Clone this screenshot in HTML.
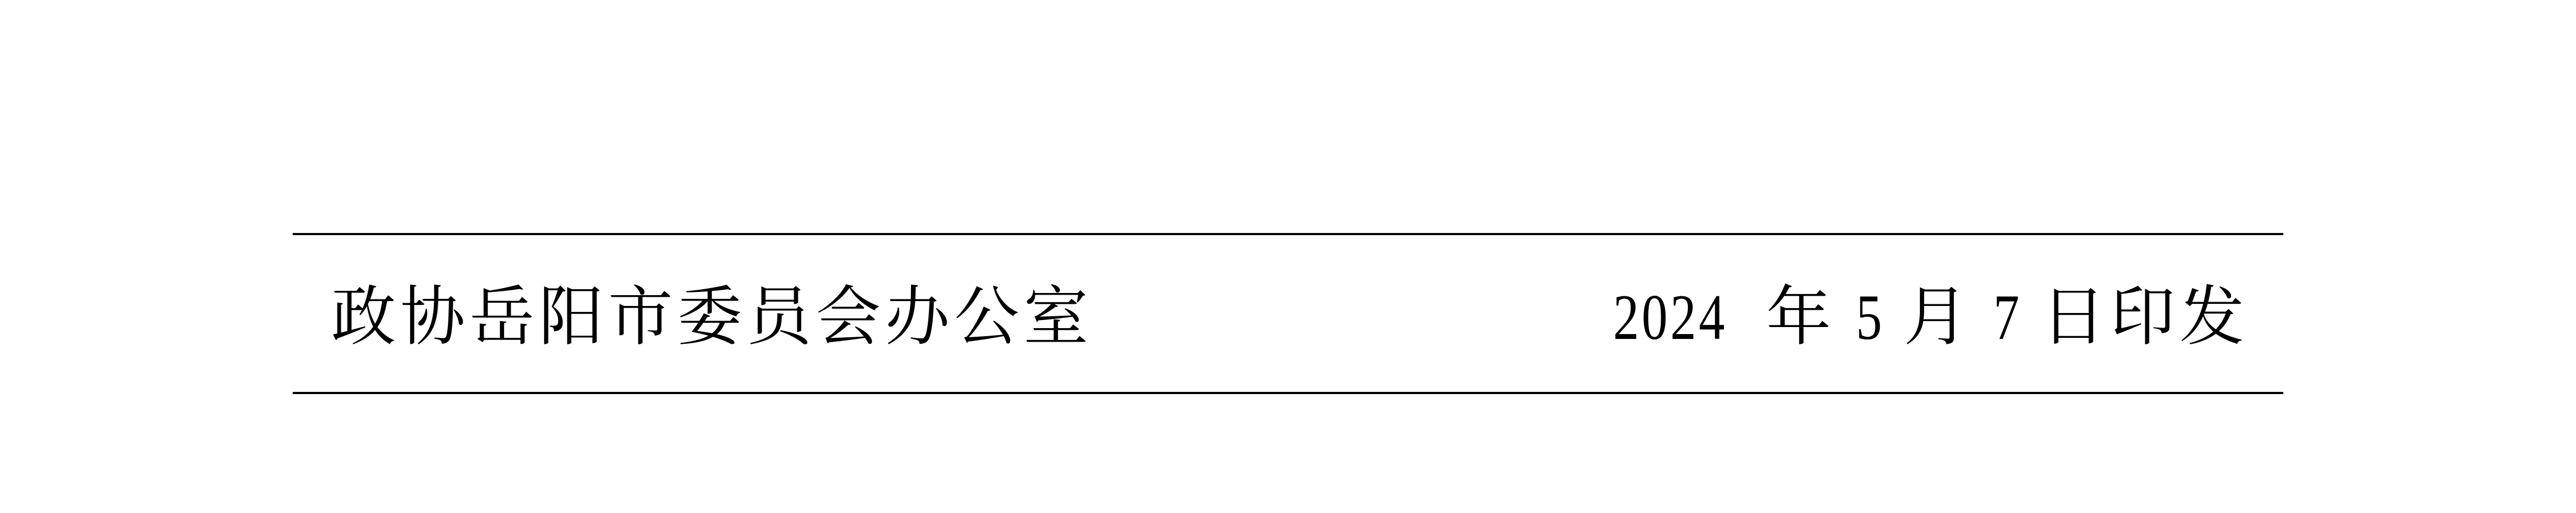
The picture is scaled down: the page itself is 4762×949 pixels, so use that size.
<!DOCTYPE html>
<html><head><meta charset="utf-8">
<style>
html,body{margin:0;padding:0;background:#fff;}
body{width:4762px;height:949px;position:relative;overflow:hidden;}
.line{position:absolute;left:541px;width:3680px;height:4px;background:#000;}
.t{position:absolute;top:522px;font-family:"Liberation Serif","Noto Serif CJK SC",serif;font-size:120px;line-height:130px;letter-spacing:8px;color:#000;white-space:nowrap;}
.d{display:inline-block;vertical-align:top;letter-spacing:0;text-align:left;}
.d span{display:inline-block;transform:scaleX(0.8);transform-origin:left top;}
</style></head><body>
<div class="line" style="top:431px"></div>
<div class="line" style="top:725px"></div>
<div class="t" style="left:612px">政协岳阳市委员会办公室</div>
<div class="t" style="right:605px;text-align:right"><span class="d" style="width:245px"><span style="letter-spacing:6px">2024</span></span> 年 <span class="d" style="width:50px"><span>5</span></span> 月 <span class="d" style="width:50px"><span>7</span></span> 日印发</div>
</body></html>
